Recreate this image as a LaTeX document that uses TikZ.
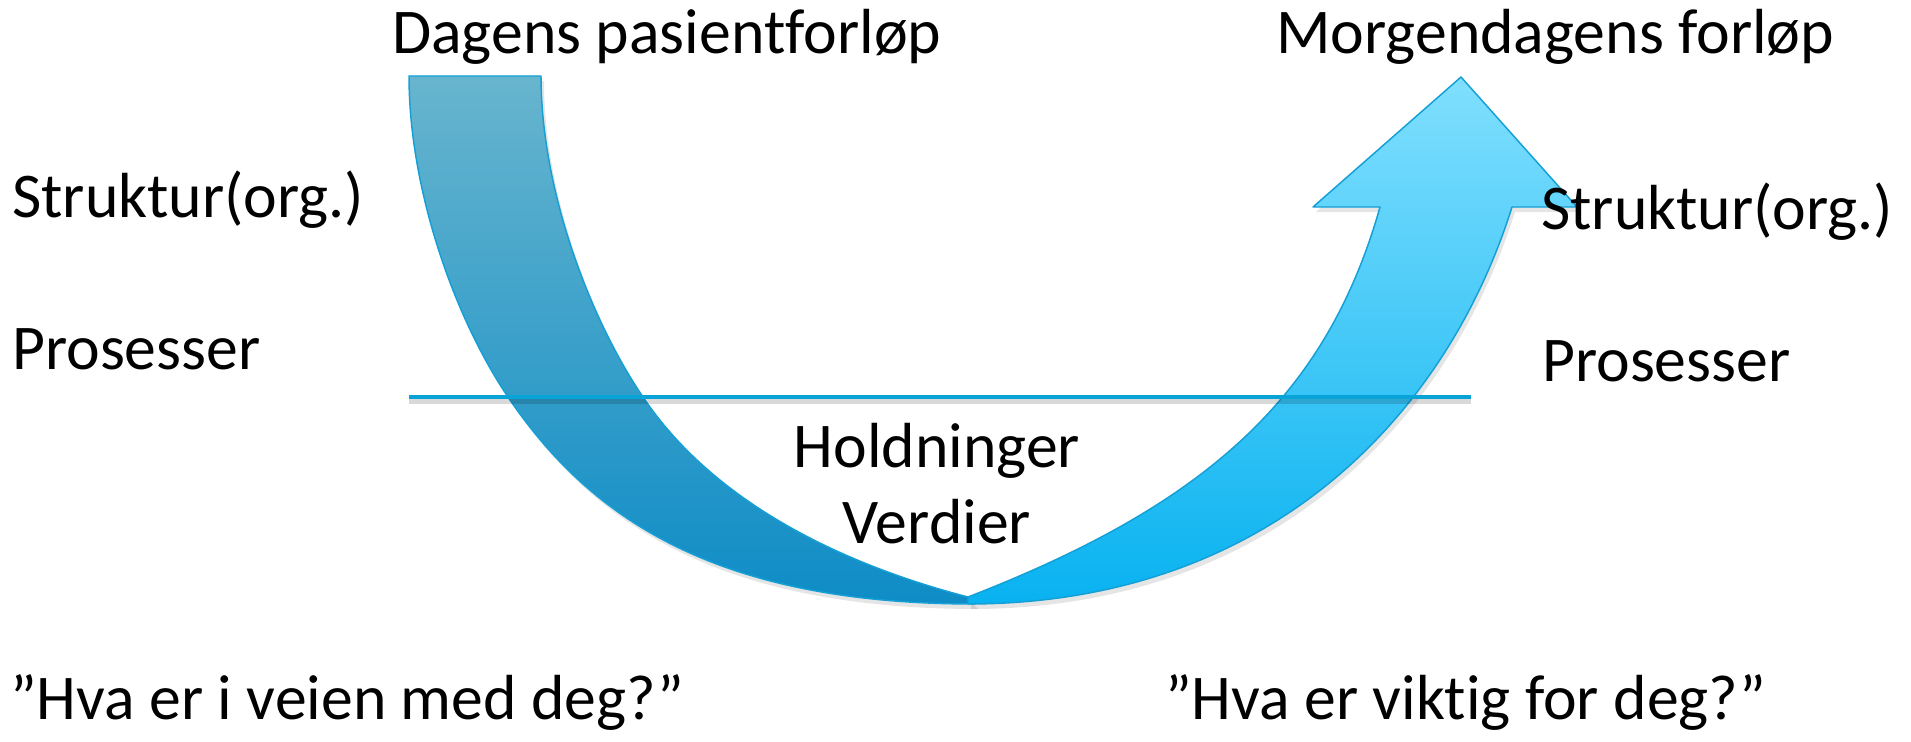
\documentclass[tikz,border=0pt]{standalone}
\usepackage{fontspec}
\setmainfont{Carlito}[Ligatures=NoCommon]
\definecolor{ltop}{RGB}{104,181,206}
\definecolor{lmid}{RGB}{66,160,202}
\definecolor{lbot}{RGB}{14,140,198}
\definecolor{rtop}{RGB}{128,223,254}
\definecolor{rmid}{RGB}{76,197,244}
\definecolor{rbot}{RGB}{8,178,240}
\definecolor{edge}{RGB}{20,160,214}
\definecolor{barline}{RGB}{8,164,216}
\tikzset{
  lbl/.style={inner sep=0pt, anchor=base west, font=\fontsize{47.8pt}{57pt}\selectfont},
  clbl/.style={inner sep=0pt, anchor=base, font=\fontsize{47.8pt}{57pt}\selectfont},
  bandedge/.style={draw=edge, line width=1.1pt, line join=round},
  bandshadow/.style={fill=black, opacity=0.10},
}
\def\leftbandpath{(409,76) .. controls (409,190) and (455,320) .. (510,400)
  .. controls (592.5,520) and (718,604) .. (975,604)
  -- (968,597)
  .. controls (860,569) and (722,512) .. (645,400)
  .. controls (590,320) and (541,190) .. (541,76) -- cycle}
\def\rightbandpath{(968,604) .. controls (1268,604) and (1446,417) .. (1512,207)
  -- (1577,207) -- (1461,77) -- (1313,207) -- (1380,207)
  .. controls (1326,398) and (1205,505) .. (968,597) -- cycle}
\begin{document}
\begin{tikzpicture}[x=0.75pt, y=-0.75pt]
\useasboundingbox (0,0) rectangle (1911,742);
\fill[white] (0,0) rectangle (1911,742);

% soft shadows
\begin{scope}[shift={(3,5)}]
  \fill[bandshadow] \leftbandpath;
  \fill[bandshadow] \rightbandpath;
\end{scope}

% left band (today's pathway)
\path[bandedge, top color=ltop, middle color=lmid, bottom color=lbot] \leftbandpath;

% right band with arrow head (tomorrow's pathway)
\path[bandedge, top color=rtop, middle color=rmid, bottom color=rbot] \rightbandpath;

% horizontal divider
\coordinate (la) at (409,397);
\coordinate (lb) at (1471,397);
\draw[black, opacity=0.15, line width=3.5pt] ([yshift=-3.5pt]la) -- ([yshift=-3.5pt]lb);
\draw[barline, line width=3.6pt] (la) -- (lb);

% labels
\node[lbl] (dagens) at (392,54) {Dagens pasientforløp};
\node[lbl] (morgen) at (1276,54) {Morgendagens forløp};
\node[lbl] (strukL) at (12,217) {Struktur(org.)};
\node[lbl] (prosL) at (12,369) {Prosesser};
\node[lbl] (strukR) at (1541,229) {Struktur(org.)};
\node[lbl] (prosR) at (1542,381) {Prosesser};
\node[clbl] (hold) at (937,467) {Holdninger};
\node[clbl] (verd) at (937,543) {Verdier};
\node[lbl] (qL) at (10,719) {”Hva er i veien med deg?”};
\node[lbl] (qR) at (1165,719) {”Hva er viktig for deg?”};
\end{tikzpicture}
\end{document}
